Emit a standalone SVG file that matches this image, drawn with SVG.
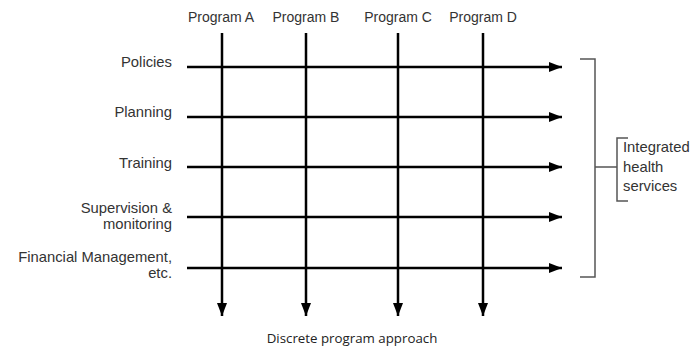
<svg xmlns="http://www.w3.org/2000/svg" width="691" height="346" viewBox="0 0 691 346">
<style>
.t{font-family:"Liberation Sans",Arial,sans-serif;font-size:14px;fill:#333}
.l{font-size:14.8px}
.r{text-anchor:end}
.c{text-anchor:middle}
.ln{stroke:#000;stroke-width:2.5;fill:none}
.br{stroke:#555;stroke-width:1.5;fill:none}
</style>
<defs>
<marker id="ah" viewBox="0 0 13 10" refX="13" refY="5" markerWidth="13" markerHeight="10" markerUnits="userSpaceOnUse" orient="auto">
<path d="M0,0 L13,5 L0,10 Z" fill="#000"/>
</marker>
</defs>
<rect width="691" height="346" fill="#fff"/>
<g id="connectors">
<line class="ln" x1="187" y1="67" x2="562" y2="67" marker-end="url(#ah)"/>
<line class="ln" x1="187" y1="117" x2="562" y2="117" marker-end="url(#ah)"/>
<line class="ln" x1="187" y1="167" x2="562" y2="167" marker-end="url(#ah)"/>
<line class="ln" x1="187" y1="217" x2="562" y2="217" marker-end="url(#ah)"/>
<line class="ln" x1="187" y1="268" x2="562" y2="268" marker-end="url(#ah)"/>
<line class="ln" x1="222" y1="33" x2="222" y2="316" marker-end="url(#ah)"/>
<line class="ln" x1="306" y1="33" x2="306" y2="316" marker-end="url(#ah)"/>
<line class="ln" x1="398" y1="33" x2="398" y2="316" marker-end="url(#ah)"/>
<line class="ln" x1="483" y1="33" x2="483" y2="316" marker-end="url(#ah)"/>
<path class="br" d="M580,59 H595 V277 H580 M595,167 H617 M628,138 H617 V201 H628"/>
</g>
<g id="programA"><text class="t c" x="221" y="22">Program A</text></g>
<g id="programB"><text class="t c" x="306" y="22">Program B</text></g>
<g id="programC"><text class="t c" x="398" y="22">Program C</text></g>
<g id="programD"><text class="t c" x="483" y="22">Program D</text></g>
<g id="policies"><text class="t l r" x="172" y="67">Policies</text></g>
<g id="planning"><text class="t l r" x="172" y="117">Planning</text></g>
<g id="training"><text class="t l r" x="172" y="168">Training</text></g>
<g id="supervision"><text class="t l r" x="172" y="213">Supervision &amp;</text><text class="t l r" x="172" y="229">monitoring</text></g>
<g id="financial"><text class="t l r" x="172" y="262">Financial Management,</text><text class="t l r" x="172" y="278">etc.</text></g>
<g id="integrated"><text class="t l" x="623" y="152">Integrated</text><text class="t l" x="623" y="172">health</text><text class="t l" x="623" y="191">services</text></g>
<g id="discrete"><text x="352" y="343" style="font-family:'Open Sans',sans-serif;font-size:13.3px;fill:#222;text-anchor:middle">Discrete program approach</text></g>
</svg>
